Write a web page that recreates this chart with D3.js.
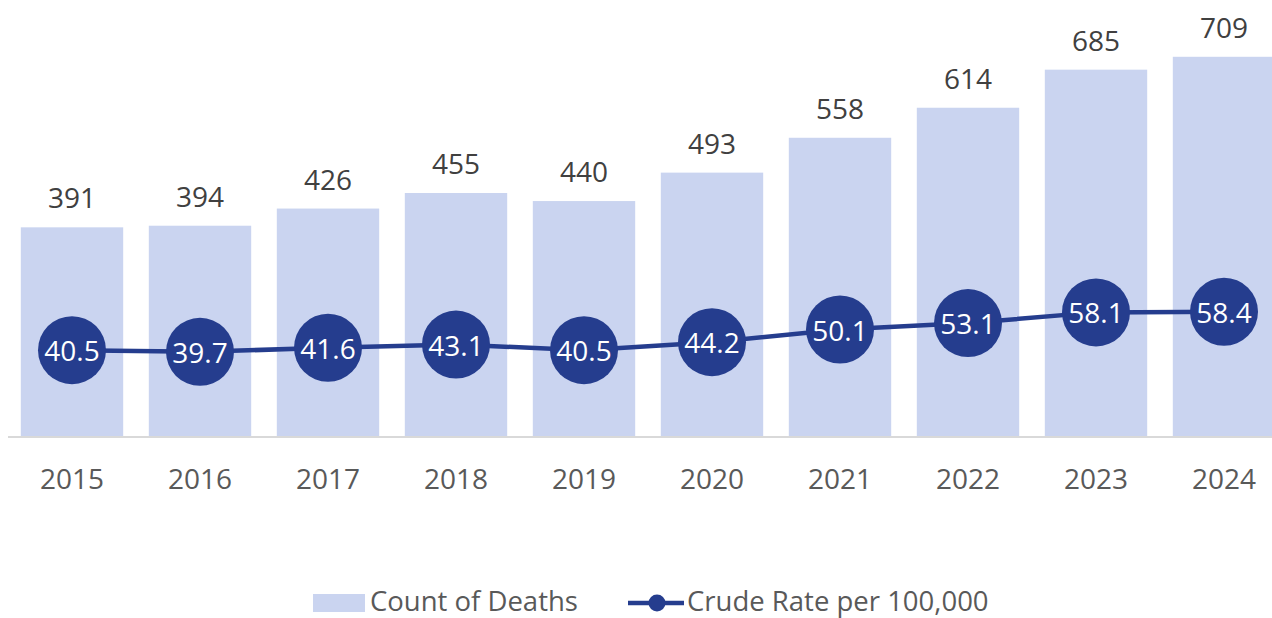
<!DOCTYPE html>
<html>
<head>
<meta charset="utf-8">
<script src="https://cdn.jsdelivr.net/npm/d3@7"></script>
<style>
  body { margin: 0; background: #fff; }
  svg text { font-family: "Open Sans", "Noto Sans", sans-serif; }
</style>
</head>
<body>
<script>
var years = ["2015", "2016", "2017", "2018", "2019", "2020", "2021", "2022", "2023", "2024"];
var deaths = [391, 394, 426, 455, 440, 493, 558, 614, 685, 709];
var rates = [40.5, 39.7, 41.6, 43.1, 40.5, 44.2, 50.1, 53.1, 58.1, 58.4];

var width = 1272, height = 618;
var margin = {top: 8, left: 8, bottom: 437};

var svg = d3.select("body").append("svg")
    .attr("width", width)
    .attr("height", height);

var x = d3.scaleBand()
    .domain(years)
    .range([margin.left, margin.left + 1280])
    .paddingInner(0.2)
    .paddingOuter(0.1);

var y = d3.scaleLinear().domain([0, 800]).range([margin.bottom, margin.top]);
var y2 = d3.scaleLinear().domain([0, 200]).range([margin.bottom, margin.top]);

// bars
svg.append("g").selectAll("rect")
    .data(deaths)
    .enter().append("rect")
    .attr("x", function(d, i) { return x(years[i]); })
    .attr("y", function(d) { return y(d); })
    .attr("width", x.bandwidth())
    .attr("height", function(d) { return y(0) - y(d); })
    .attr("fill", "#cad4f0");

// bar labels
svg.append("g").selectAll("text")
    .data(deaths)
    .enter().append("text")
    .attr("x", function(d, i) { return x(years[i]) + x.bandwidth() / 2; })
    .attr("y", function(d) { return y(d) - 19; })
    .attr("text-anchor", "middle")
    .attr("fill", "#404040")
    .style("font-size", "28px")
    .text(function(d) { return d; });

// x axis
var xAxis = svg.append("g")
    .attr("transform", "translate(0," + margin.bottom + ")")
    .call(d3.axisBottom(x).tickSize(0).tickPadding(0));
xAxis.select(".domain").attr("stroke", "#d9d9d9").attr("stroke-width", 2)
    .attr("d", "M" + margin.left + ",0H" + width);
xAxis.selectAll("text")
    .attr("dy", null)
    .attr("y", 52)
    .attr("fill", "#595959")
    .style("font-size", "28px")
    .style("font-family", "'Open Sans', sans-serif");

// rate line
var line = d3.line()
    .x(function(d, i) { return x(years[i]) + x.bandwidth() / 2; })
    .y(function(d) { return y2(d); });

svg.append("path")
    .datum(rates)
    .attr("d", line)
    .attr("fill", "none")
    .attr("stroke", "#253d8e")
    .attr("stroke-width", 4.5);

var dots = svg.append("g").selectAll("g")
    .data(rates)
    .enter().append("g")
    .attr("transform", function(d, i) {
        return "translate(" + (x(years[i]) + x.bandwidth() / 2) + "," + y2(d) + ")";
    });
dots.append("circle").attr("r", 34).attr("fill", "#253d8e");
dots.append("text")
    .attr("text-anchor", "middle")
    .attr("y", 11)
    .attr("fill", "#fff")
    .style("font-size", "28px")
    .text(function(d) { return d.toFixed(1); });

// legend
var legend = svg.append("g").attr("transform", "translate(0,602)");
legend.append("rect")
    .attr("x", 313).attr("y", -8).attr("width", 52).attr("height", 18)
    .attr("fill", "#cad4f0");
legend.append("text")
    .attr("x", 370).attr("y", 9)
    .attr("fill", "#595959")
    .style("font-size", "27.5px")
    .text("Count of Deaths");
legend.append("line")
    .attr("x1", 628).attr("x2", 684).attr("y1", 1).attr("y2", 1)
    .attr("stroke", "#253d8e").attr("stroke-width", 4.5);
legend.append("circle")
    .attr("cx", 657).attr("cy", 1).attr("r", 8.5)
    .attr("fill", "#253d8e");
legend.append("text")
    .attr("x", 687).attr("y", 9)
    .attr("fill", "#595959")
    .style("font-size", "27.5px")
    .text("Crude Rate per 100,000");
</script>
</body>
</html>
